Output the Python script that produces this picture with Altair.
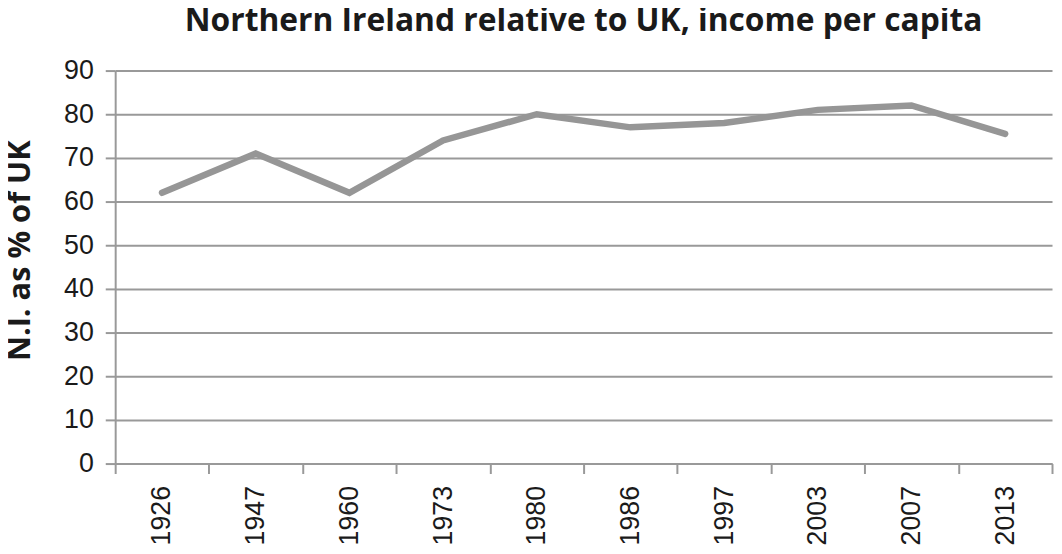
import altair as alt
import pandas as pd

years = ["1926", "1947", "1960", "1973", "1980", "1986", "1997", "2003", "2007", "2013"]
values = [62, 71, 62, 74, 80, 77, 78, 81, 82, 75.5]

df = pd.DataFrame({"year": years, "value": values})

chart = alt.Chart(df).mark_line(color="#969696", strokeWidth=6.5, strokeCap="round", strokeJoin="miter").encode(
    x=alt.X("year:N", sort=years,
            scale=alt.Scale(type="band", paddingInner=0, paddingOuter=0),
            axis=alt.Axis(title=None, labelAngle=-90, labelAlign="right", labelBaseline="middle",
                          labelFontSize=27, labelFont="Liberation Sans", labelColor="#1a1a1a",
                          labelPadding=12, tickBand="extent", tickSize=10, tickWidth=2,
                          tickColor="#999999", domainColor="#999999", domainWidth=2,
                          grid=False)),
    y=alt.Y("value:Q", scale=alt.Scale(domain=[0, 90], nice=False),
            axis=alt.Axis(title="N.I. as % of UK", values=list(range(0, 91, 10)),
                          titleFont="Open Sans", titleFontSize=31, titleFontWeight="bold",
                          titleColor="#1a1a1a", titleAngle=-90, titleX=-95, titleY=181,
                          titleAlign="center", titleBaseline="middle",
                          labelFontSize=27, labelFont="Liberation Sans", labelColor="#1a1a1a",
                          labelPadding=12, tickSize=10, tickWidth=2, tickColor="#999999",
                          domainColor="#999999", domainWidth=2,
                          grid=True, gridColor="#999999", gridWidth=2)),
).properties(
    width=944,
    height=396,
    title=alt.TitleParams("Northern Ireland relative to UK, income per capita",
                          font="Open Sans", fontSize=32, fontWeight="bold", color="#1a1a1a",
                          anchor="middle", offset=19),
    autosize=alt.AutoSizeParams(type="none"),
    padding={"left": 108, "top": 61, "right": 2, "bottom": 80},
).configure_view(stroke=None)

chart.save("out.html", embed_options={"renderer": "svg", "actions": False})
